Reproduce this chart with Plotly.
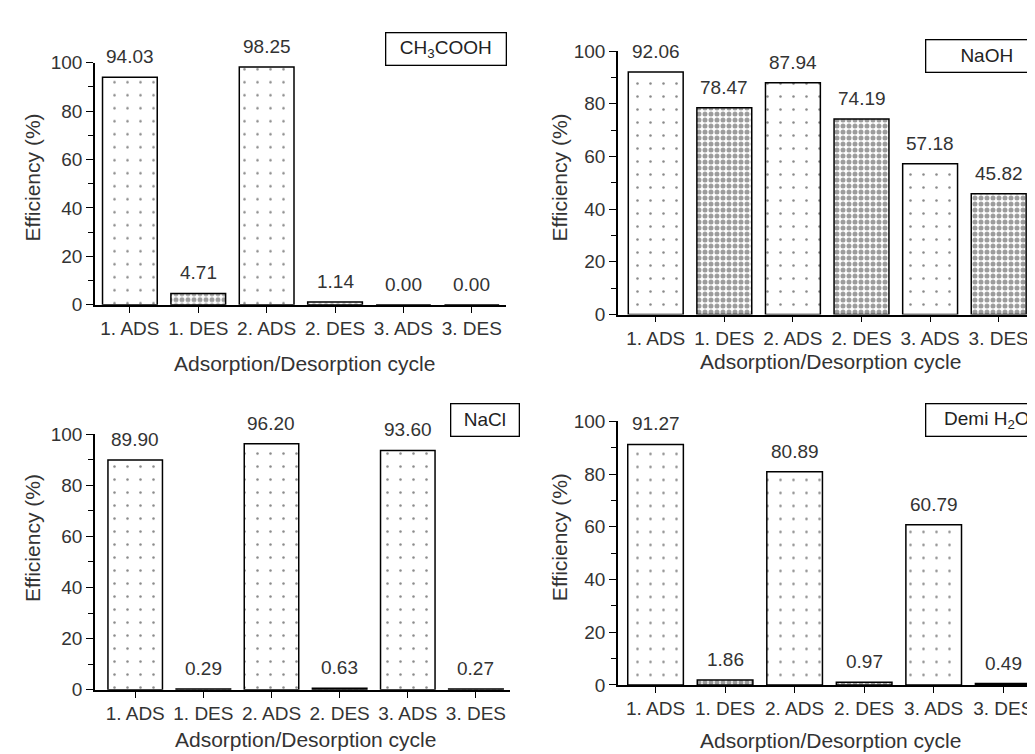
import plotly.graph_objects as go

categories = ["1. ADS", "1. DES", "2. ADS", "2. DES", "3. ADS", "3. DES"]
ch3cooh = [94.03, 4.71, 98.25, 1.14, 0.00, 0.00]
naoh = [92.06, 78.47, 87.94, 74.19, 57.18, 45.82]
nacl = [89.90, 0.29, 96.20, 0.63, 93.60, 0.27]
demi = [91.27, 1.86, 80.89, 0.97, 60.79, 0.49]
panel_labels = ["CH<sub>3</sub>COOH", "NaOH", "NaCl", "Demi H<sub>2</sub>O"]
y_title = "Efficiency (%)"
x_title = "Adsorption/Desorption cycle"
y_ticks = [0, 20, 40, 60, 80, 100]

W, H = 1035, 754
FONT = "Liberation Sans, Arial, sans-serif"
TXT = "#333333"

def px_x(v):
    return v / W

def px_y(v):
    return 1 - v / H

# panel geometry (pixels): x0, x1, ytop(100), ybottom(0), xrange
panels = [
    dict(data=ch3cooh, x0=87, x1=498, yt=46, yb=295, xr=[-0.51, 5.5],
         xt=(296, 355), yti=(24, 164), box=(377, 498, 15, 48)),
    dict(data=naoh, x0=610, x1=1025, yt=34, yb=305, xr=[-0.55, 5.5],
         xt=(822, 353), yti=(551, 164), box=(917, 1040, 23, 56)),
    dict(data=nacl, x0=87, x1=502, yt=428, yb=691, xr=[-0.59, 5.5],
         xt=(297, 742), yti=(24, 535), box=(442, 511, 397, 430)),
    dict(data=demi, x0=610, x1=1030, yt=415, yb=686, xr=[-0.54, 5.5],
         xt=(822, 743), yti=(551, 534), box=(917, 1040, 397, 430)),
]

fig = go.Figure()
annotations = []
layout = {}

for i, p in enumerate(panels):
    n = i + 1
    xa = "x" if n == 1 else f"x{n}"
    ya = "y" if n == 1 else f"y{n}"
    xkey = "xaxis" if n == 1 else f"xaxis{n}"
    ykey = "yaxis" if n == 1 else f"yaxis{n}"
    vals = p["data"]
    ads_x = [c for j, c in enumerate(categories) if j % 2 == 0]
    ads_y = [v for j, v in enumerate(vals) if j % 2 == 0]
    des_x = [c for j, c in enumerate(categories) if j % 2 == 1]
    des_y = [v for j, v in enumerate(vals) if j % 2 == 1]
    fig.add_trace(go.Bar(
        x=ads_x, y=ads_y, xaxis=xa, yaxis=ya, width=0.8,
        marker=dict(color="white", line=dict(color="black", width=1.5),
                    pattern=dict(shape=".", size=13, solidity=0.03,
                                 fgcolor="#111111", bgcolor="white", fillmode="overlay")),
        showlegend=False, hoverinfo="x+y"))
    fig.add_trace(go.Bar(
        x=des_x, y=des_y, xaxis=xa, yaxis=ya, width=0.8,
        marker=dict(color="white", line=dict(color="black", width=1.5),
                    pattern=dict(shape=".", size=6, solidity=0.55,
                                 fgcolor="#3a3a3a", bgcolor="white", fillmode="overlay")),
        showlegend=False, hoverinfo="x+y"))
    layout[xkey] = dict(
        domain=[px_x(p["x0"]), px_x(p["x1"])], anchor=ya,
        type="category", categoryorder="array", categoryarray=categories,
        range=p["xr"], showline=True, linecolor="black", linewidth=1.5,
        ticks="outside", ticklen=6, tickwidth=1.2, tickcolor="black",
        tickfont=dict(family=FONT, size=19, color=TXT), showgrid=False, zeroline=False)
    layout[ykey] = dict(
        domain=[px_y(p["yb"]), px_y(p["yt"])], anchor=xa,
        range=[0, 100], tickvals=y_ticks, showline=True, linecolor="black", linewidth=1.5,
        ticks="outside", ticklen=7, tickwidth=1.2, tickcolor="black",
        minor=dict(dtick=10, ticks="outside", ticklen=5, tickwidth=1.2, tickcolor="black"),
        tickfont=dict(family=FONT, size=19, color=TXT), showgrid=False, zeroline=False)
    for c, v in zip(categories, vals):
        annotations.append(dict(
            x=c, y=v, xref=xa, yref=ya, text=f"{v:.2f}", showarrow=False,
            yanchor="bottom", yshift=8, font=dict(family=FONT, size=19, color=TXT)))
    annotations.append(dict(
        x=px_x(p["xt"][0]), y=px_y(p["xt"][1]), xref="paper", yref="paper",
        text=x_title, showarrow=False, xanchor="center", yanchor="middle",
        font=dict(family=FONT, size=21, color=TXT)))
    annotations.append(dict(
        x=px_x(p["yti"][0]), y=px_y(p["yti"][1]), xref="paper", yref="paper",
        text=y_title, showarrow=False, textangle=-90, xanchor="center", yanchor="middle",
        font=dict(family=FONT, size=21, color=TXT)))
    bx0, bx1, by0, by1 = p["box"]
    annotations.append(dict(
        x=px_x((bx0 + bx1) / 2), y=px_y((by0 + by1) / 2), xref="paper", yref="paper",
        text=panel_labels[i], showarrow=False, xanchor="center", yanchor="middle",
        width=bx1 - bx0 - 6, height=by1 - by0 - 6, borderpad=2,
        bordercolor="black", borderwidth=1.3, bgcolor="white",
        font=dict(family=FONT, size=19, color="#222222")))

fig.update_layout(
    width=W, height=H, margin=dict(l=0, r=0, t=0, b=0),
    paper_bgcolor="white", plot_bgcolor="white", barmode="overlay",
    annotations=annotations, **layout)

fig.write_html("out.html")
